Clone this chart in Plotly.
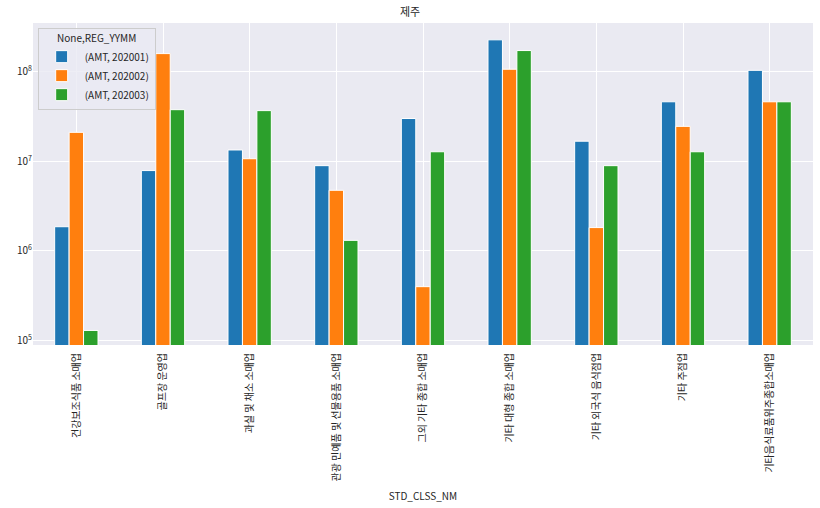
import plotly.graph_objects as go

categories = ["건강보조식품 소매업", "골프장 운영업", "과실 및 채소 소매업",
              "관광 민예품 및 선물용품 소매업", "그외 기타 종합 소매업",
              "기타 대형 종합 소매업", "기타 외국식 음식점업", "기타 주점업",
              "기타음식료품위주종합소매업"]
amt_202001 = [1.86e6, 7.89e6, 1.34e7, 8.95e6, 3.01e7, 2.28e8, 1.68e7, 4.63e7, 1.04e8]
amt_202002 = [2.11e7, 1.60e8, 1.07e7, 4.75e6, 3.98e5, 1.07e8, 1.82e6, 2.46e7, 4.63e7]
amt_202003 = [1.29e5, 3.78e7, 3.69e7, 1.31e6, 1.28e7, 1.73e8, 8.95e6, 1.28e7, 4.63e7]
series_names = ["(AMT, 202001)", "(AMT, 202002)", "(AMT, 202003)"]
colors = ["#1f77b4", "#ff7f0e", "#2ca02c"]
ytick_vals = [1e5, 1e6, 1e7, 1e8]
ytick_text = ["10<sup>5</sup>", "10<sup>6</sup>", "10<sup>7</sup>", "10<sup>8</sup>"]

FONT = "Noto Sans CJK KR, Noto Sans, sans-serif"
fig = go.Figure()
for name, vals, c in zip(series_names, [amt_202001, amt_202002, amt_202003], colors):
    fig.add_trace(go.Bar(x=categories, y=vals, name=name, marker_color=c,
                         marker_line=dict(color="white", width=1)))

fig.update_layout(
    width=820, height=508,
    margin=dict(l=33, r=7, t=23, b=160),
    paper_bgcolor="white", plot_bgcolor="#EAEAF2",
    barmode="group", bargap=0.5, bargroupgap=0,
    font=dict(family=FONT, size=10, color="#262626"),
    title=dict(text="제주", x=0.5, xanchor="center", y=0.976, yanchor="middle",
               font=dict(size=11, color="#262626")),
    showlegend=True,
    legend=dict(x=0.006, y=0.984, xanchor="left", yanchor="top",
                title=dict(text="None,REG_YYMM", side="top center", font=dict(size=10)),
                bgcolor="rgba(234,234,242,0.8)", bordercolor="#CCCCCC", borderwidth=1,
                font=dict(size=10), itemwidth=36, tracegroupgap=0),
    xaxis=dict(title=dict(text="STD_CLSS_NM", standoff=12, font=dict(size=10)),
               tickangle=-90, showgrid=True, gridcolor="white", gridwidth=1,
               showline=False, zeroline=False, ticks="", ticklabelstandoff=5,
               range=[-0.5, 8.5]),
    yaxis=dict(type="log", range=[4.948, 8.546], tickvals=ytick_vals, ticktext=ytick_text,
               showgrid=True, gridcolor="white", gridwidth=1, zeroline=False,
               showline=False, ticks=""),
)
fig.write_html("out.html")
